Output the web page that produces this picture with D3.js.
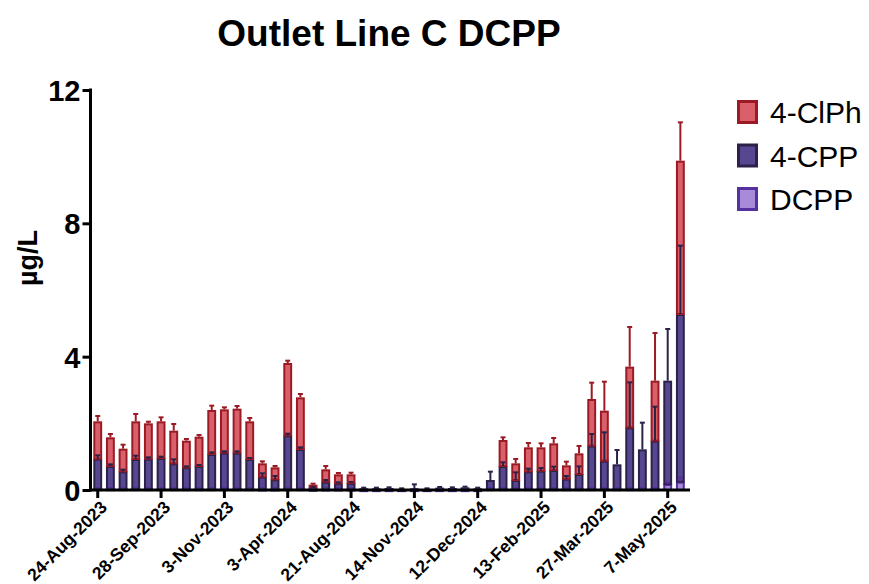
<!DOCTYPE html>
<html>
<head>
<meta charset="utf-8">
<script src="https://cdn.jsdelivr.net/npm/d3@7"></script>
<style>
  body { margin: 0; background: #fff; }
  svg { font-family: "Liberation Sans", Arial, sans-serif; }
</style>
</head>
<body>
<svg id="main" width="869" height="584"></svg>
<script>
// 47 samples, only every 5th one is labelled on the axis
var sampleIdx = d3.range(47);
var tickIdx = [0, 5, 10, 15, 20, 25, 30, 35, 40, 45];
var tickLabels = ["24-Aug-2023", "28-Sep-2023", "3-Nov-2023", "3-Apr-2024", "21-Aug-2024",
                  "14-Nov-2024", "12-Dec-2024", "13-Feb-2025", "27-Mar-2025", "7-May-2025"];

var dcpp = [0.05, 0.05, 0.05, 0.05, 0.05, 0.05, 0.05, 0.05, 0.05, 0.05,
            0.05, 0.05, 0.05, 0.04, 0.04, 0.05, 0.05, 0.03, 0.04, 0.04,
            0.04, 0.02, 0.02, 0.02, 0.02, 0.02, 0.02, 0.02, 0.02, 0.02,
            0.02, 0.05, 0.05, 0.05, 0.05, 0.05, 0.05, 0.05, 0.05, 0.05,
            0.05, 0.05, 0.05, 0.05, 0.05, 0.18, 0.25];
var cpp = [0.89, 0.67, 0.51, 0.88, 0.89, 0.91, 0.75, 0.63, 0.67, 1.03,
           1.07, 1.07, 0.88, 0.36, 0.28, 1.59, 1.18, 0.04, 0.21, 0.16,
           0.17, 0.03, 0.03, 0.04, 0.01, 0.03, 0.01, 0.05, 0.04, 0.06,
           0.03, 0.25, 0.67, 0.25, 0.51, 0.53, 0.55, 0.29, 0.43, 1.28,
           0.83, 0.72, 1.83, 1.17, 1.43, 3.10, 5.03];
var clph = [1.12, 0.86, 0.68, 1.13, 1.06, 1.10, 0.98, 0.80, 0.88, 1.32,
            1.30, 1.32, 1.13, 0.40, 0.36, 2.17, 1.55, 0.09, 0.37, 0.27,
            0.26, 0, 0, 0, 0, 0, 0, 0, 0, 0,
            0, 0, 0.78, 0.50, 0.72, 0.70, 0.80, 0.40, 0.62, 1.40,
            1.50, 0, 1.82, 0, 1.80, 0, 4.60];

var dcppErr = [0.01, 0.01, 0.01, 0.01, 0.01, 0.01, 0.01, 0.01, 0.01, 0.01,
               0.01, 0.01, 0.01, 0.01, 0.01, 0.01, 0.01, 0.01, 0.01, 0.01,
               0.01, 0.01, 0.01, 0.01, 0.01, 0.01, 0.01, 0.01, 0.01, 0.01,
               0.01, 0.01, 0.01, 0.01, 0.01, 0.01, 0.01, 0.01, 0.01, 0.01,
               0.01, 0.01, 0.01, 0.01, 0.01, 0.05, 0.12];
var cppErr = [0.10, 0.05, 0.05, 0.10, 0.04, 0.04, 0.12, 0.03, 0.03, 0.05,
              0.04, 0.04, 0.03, 0.10, 0.10, 0.05, 0.05, 0.02, 0.05, 0.03,
              0.03, 0.02, 0.02, 0.02, 0.02, 0.12, 0.02, 0.02, 0.02, 0.02,
              0.02, 0.25, 0.11, 0.23, 0.08, 0.08, 0.10, 0.08, 0.23, 0.35,
              0.85, 0.43, 1.35, 0.80, 1.02, 1.55, 2.05];
var clphErr = [0.16, 0.10, 0.12, 0.22, 0.05, 0.12, 0.20, 0.05, 0.05, 0.13,
               0.06, 0.08, 0.10, 0.06, 0.04, 0.07, 0.10, 0.03, 0.10, 0.04,
               0.05, 0, 0, 0, 0, 0, 0, 0, 0, 0,
               0, 0, 0.08, 0.13, 0.13, 0.12, 0.16, 0.11, 0.22, 0.49,
               0.87, 0, 1.19, 0, 1.43, 0, 1.15];

var yTicks = [0, 4, 8, 12];

// stacked bottom to top: DCPP, 4-CPP, 4-ClPh
var series = [
    {name: "DCPP", values: dcpp, err: dcppErr, fill: "#a68bd9", stroke: "#55309e"},
    {name: "4-CPP", values: cpp, err: cppErr, fill: "#574690", stroke: "#2c2249"},
    {name: "4-ClPh", values: clph, err: clphErr, fill: "#d9606a", stroke: "#9c1a24"}
];

var svg = d3.select('svg#main');

var x = d3.scaleBand().domain(sampleIdx).range([91.4, 686.7])
    .paddingInner(0.3).paddingOuter(0.15);
var y = d3.scaleLinear().domain([0, 12]).range([490, 90]);

// build stacked segments
var segments = [];
sampleIdx.forEach(function(i) {
    var base = 0;
    series.forEach(function(s) {
        var v = s.values[i];
        segments.push({i: i, y0: base, y1: base + v, err: s.err[i], s: s});
        base += v;
    });
});

svg.append('g').selectAll('rect')
    .data(segments.filter(d => d.y1 > d.y0))
    .join('rect')
    .attr('x', d => x(d.i) + 1)
    .attr('width', x.bandwidth() - 2)
    .attr('y', d => y(d.y1) + 1)
    .attr('height', d => Math.max(0.8, y(d.y0) - y(d.y1) - 1))
    .attr('fill', d => d.s.fill)
    .attr('stroke', d => d.s.stroke)
    .attr('stroke-width', 2);

// error bars, only upward, drawn over the bars
var errs = svg.append('g').selectAll('g')
    .data(segments.filter(d => d.y1 > d.y0 && d.err > 0))
    .join('g')
    .attr('stroke', d => d.s.stroke)
    .attr('stroke-width', 2);
errs.append('line')
    .attr('x1', d => x(d.i) + x.bandwidth() / 2)
    .attr('x2', d => x(d.i) + x.bandwidth() / 2)
    .attr('y1', d => y(d.y1))
    .attr('y2', d => y(d.y1 + d.err));
errs.append('line')
    .attr('x1', d => x(d.i) + x.bandwidth() / 2 - 2.5)
    .attr('x2', d => x(d.i) + x.bandwidth() / 2 + 2.5)
    .attr('y1', d => y(d.y1 + d.err))
    .attr('y2', d => y(d.y1 + d.err));

// y axis
var yAxis = svg.append('g')
    .attr('transform', 'translate(90.5,0)')
    .call(d3.axisLeft(y).tickValues(yTicks).tickSize(8).tickSizeOuter(0).tickFormat(d3.format('d')));
yAxis.select('.domain').attr('stroke-width', 3).attr('d', 'M0,88.5V491.5');
yAxis.selectAll('.tick line').attr('stroke-width', 3);
yAxis.selectAll('.tick text')
    .attr('x', -10)
    .attr('dy', '0.36em')
    .style('font-size', '29px')
    .style('font-weight', 'bold')
    .attr('fill', '#000');

// x axis
var xAxis = svg.append('g')
    .attr('transform', 'translate(0,490)')
    .call(d3.axisBottom(x).tickValues(tickIdx).tickSize(8)
          .tickFormat(i => tickLabels[tickIdx.indexOf(i)]));
xAxis.select('.domain').attr('stroke-width', 3).attr('d', 'M89,0H690');
xAxis.selectAll('.tick line').attr('stroke-width', 3);
xAxis.selectAll('.tick text')
    .attr('text-anchor', 'end')
    .attr('transform', 'translate(6,14) rotate(-45)')
    .attr('x', 0)
    .attr('y', 0)
    .attr('dy', '0.35em')
    .style('font-size', '17.5px')
    .style('font-weight', 'bold')
    .attr('fill', '#000');

// y axis title
svg.append('text')
    .attr('transform', 'translate(37,258) rotate(-90)')
    .attr('text-anchor', 'middle')
    .style('font-size', '27px')
    .style('font-weight', 'bold')
    .text('µg/L');

// title
svg.append('text')
    .attr('x', 389)
    .attr('y', 46)
    .attr('text-anchor', 'middle')
    .style('font-size', '37px')
    .style('font-weight', 'bold')
    .text('Outlet Line C DCPP');

// legend, top to bottom reversed from stacking order
var legend = svg.append('g').selectAll('g')
    .data(series.slice().reverse())
    .join('g')
    .attr('transform', (d, k) => 'translate(737,' + (100 + k * 43.5) + ')');
legend.append('rect')
    .attr('x', 1.5).attr('y', 1.5)
    .attr('width', 18).attr('height', 21)
    .attr('fill', d => d.fill)
    .attr('stroke', d => d.stroke)
    .attr('stroke-width', 3);
legend.append('text')
    .attr('x', 33)
    .attr('y', 23)
    .style('font-size', '30px')
    .text(d => d.name);
</script>
</body>
</html>
